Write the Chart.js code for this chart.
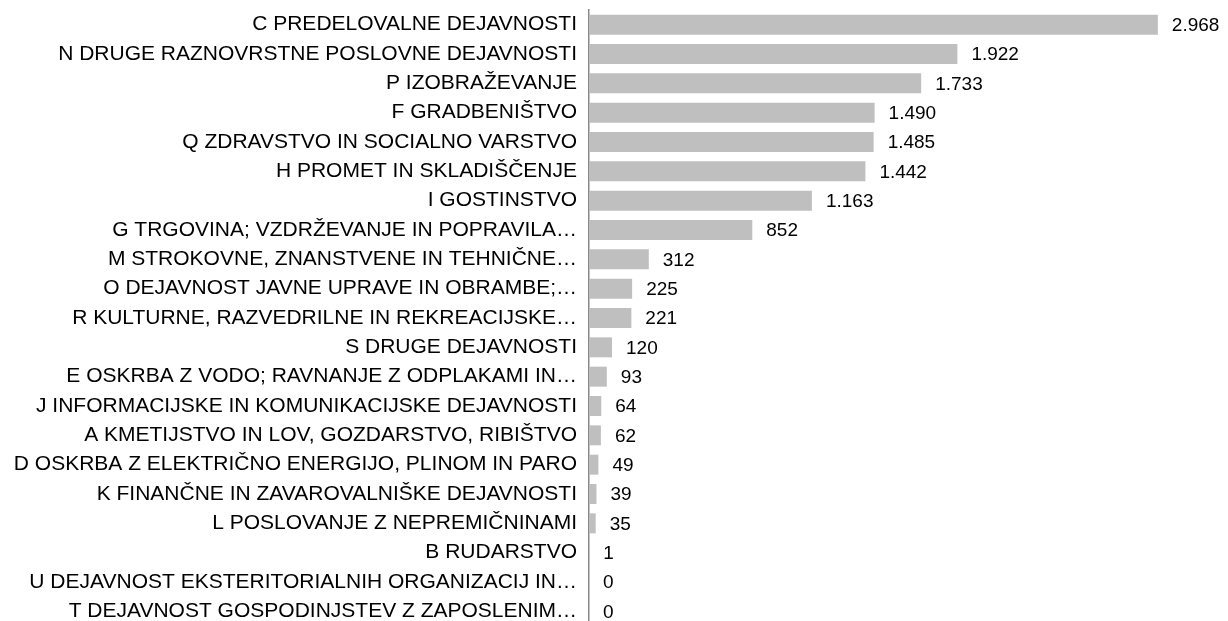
<!DOCTYPE html>
<html>
<head>
<meta charset="utf-8">
<script src="https://cdn.jsdelivr.net/npm/chart.js@4"></script>
<style>
html,body{margin:0;padding:0;background:#fff;overflow:hidden;}
#wrap{position:relative;width:1228px;height:630px;}
</style>
</head>
<body>
<div id="wrap"><canvas id="c" width="1228" height="630"></canvas></div>
<script>
const categories = [
  "C PREDELOVALNE DEJAVNOSTI",
  "N DRUGE RAZNOVRSTNE POSLOVNE DEJAVNOSTI",
  "P IZOBRAŽEVANJE",
  "F GRADBENIŠTVO",
  "Q ZDRAVSTVO IN SOCIALNO VARSTVO",
  "H PROMET IN SKLADIŠČENJE",
  "I GOSTINSTVO",
  "G TRGOVINA; VZDRŽEVANJE IN POPRAVILA…",
  "M STROKOVNE, ZNANSTVENE IN TEHNIČNE…",
  "O DEJAVNOST JAVNE UPRAVE IN OBRAMBE;…",
  "R KULTURNE, RAZVEDRILNE IN REKREACIJSKE…",
  "S DRUGE DEJAVNOSTI",
  "E OSKRBA Z VODO; RAVNANJE Z ODPLAKAMI IN…",
  "J INFORMACIJSKE IN KOMUNIKACIJSKE DEJAVNOSTI",
  "A KMETIJSTVO IN LOV, GOZDARSTVO, RIBIŠTVO",
  "D OSKRBA Z ELEKTRIČNO ENERGIJO, PLINOM IN PARO",
  "K FINANČNE IN ZAVAROVALNIŠKE DEJAVNOSTI",
  "L POSLOVANJE Z NEPREMIČNINAMI",
  "B RUDARSTVO",
  "U DEJAVNOST EKSTERITORIALNIH ORGANIZACIJ IN…",
  "T DEJAVNOST GOSPODINJSTEV Z ZAPOSLENIM…"
];
const values = [2968, 1922, 1733, 1490, 1485, 1442, 1163, 852, 312, 225, 221, 120, 93, 64, 62, 49, 39, 35, 1, 0, 0];
const axisMin = 0;
const axisMax = 3000;

function fmt(v){ return String(v).replace(/\B(?=(\d{3})+(?!\d))/g, '.'); }

const FAMILY = '"Liberation Sans", Arial, sans-serif';
const LABEL_FONT = {family: FAMILY, size: 21};
const VALUE_SIZE = 19;

const valueLabels = {
  id: 'valueLabels',
  afterDatasetsDraw(chart){
    const ctx = chart.ctx;
    const meta = chart.getDatasetMeta(0);
    ctx.save();
    ctx.font = VALUE_SIZE + 'px ' + FAMILY;
    ctx.fillStyle = '#000';
    ctx.textAlign = 'left';
    ctx.textBaseline = 'middle';
    meta.data.forEach((bar, i) => {
      ctx.fillText(fmt(chart.data.datasets[0].data[i]), bar.x + 14, bar.y + 1);
    });
    ctx.restore();
  }
};

new Chart(document.getElementById('c'), {
  type: 'bar',
  data: {
    labels: categories,
    datasets: [{
      data: values,
      backgroundColor: '#bfbfbf',
      borderWidth: 0,
      categoryPercentage: 1,
      barPercentage: 0.68
    }]
  },
  options: {
    indexAxis: 'y',
    responsive: false,
    animation: false,
    layout: {padding: {top: 10, bottom: 4, right: 64, left: 0}},
    plugins: {legend: {display: false}, tooltip: {enabled: false}},
    scales: {
      x: {min: axisMin, max: axisMax, display: false},
      y: {
        grid: {display: false, drawTicks: false},
        border: {display: true, color: '#888888', width: 1.5},
        ticks: {color: '#000', font: LABEL_FONT, padding: 12, autoSkip: false},
        afterFit(scale){
          scale.width = 589;
          scale.paddingTop = 0;
          scale.paddingBottom = 0;
        }
      }
    }
  },
  plugins: [valueLabels]
});
</script>
</body>
</html>
